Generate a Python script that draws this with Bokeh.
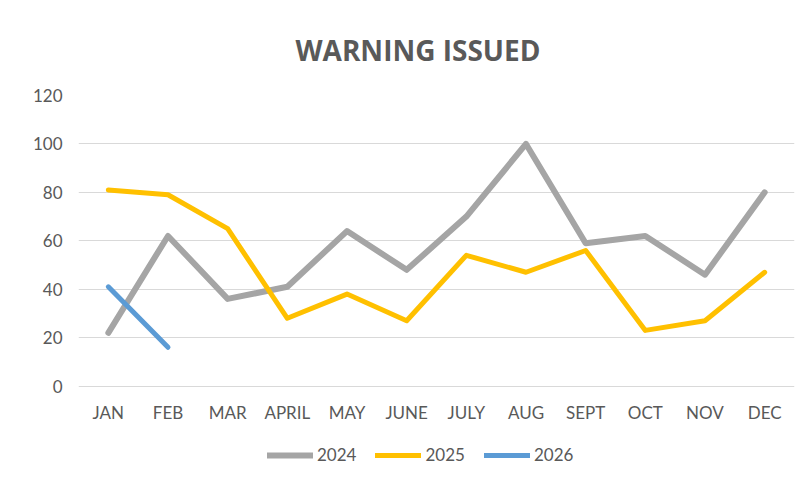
from bokeh.plotting import figure
from bokeh.models import Range1d, FactorRange, Legend, LegendItem, FixedTicker
from bokeh.embed import file_html
from bokeh.resources import INLINE

months = ["JAN", "FEB", "MAR", "APRIL", "MAY", "JUNE", "JULY", "AUG", "SEPT", "OCT", "NOV", "DEC"]
y2024 = [22, 62, 36, 41, 64, 48, 70, 100, 59, 62, 46, 80]
y2025 = [81, 79, 65, 28, 38, 27, 54, 47, 56, 23, 27, 47]
y2026 = [41, 16]
y_ticks = [0, 20, 40, 60, 80, 100, 120]
series_names = ["2024", "2025", "2026"]
colors = ["#A5A5A5", "#FFC000", "#5B9BD5"]

# the plotting area is extended below zero so that the legend can sit inside it
p = figure(frame_width=716, frame_height=386, x_range=FactorRange(*months), y_range=Range1d(-39.4, 120),
           output_backend="svg", toolbar_location=None,
           min_border_left=78, min_border_right=3, min_border_top=95, min_border_bottom=0)
p.outline_line_color = None
p.background_fill_color = "white"
p.border_fill_color = "white"

p.title.text = "WARNING ISSUED"
p.title.align = "left"
p.title.offset = 217
p.title.text_font = "Open Sans"
p.title.text_font_style = "bold"
p.title.text_font_size = "28px"
p.title.text_color = "#595959"
p.title.standoff = 54

r1 = p.line(months, y2024, line_color=colors[0], line_width=6, line_join="round", line_cap="round")
r2 = p.line(months, y2025, line_color=colors[1], line_width=5, line_join="round", line_cap="round")
r3 = p.line(months[:len(y2026)], y2026, line_color=colors[2], line_width=5, line_join="round", line_cap="round")

p.yaxis.ticker = FixedTicker(ticks=y_ticks)
p.xaxis.fixed_location = 0
for ax in [p.xaxis[0], p.yaxis[0]]:
    ax.axis_line_color = None
    ax.major_tick_line_color = None
    ax.minor_tick_line_color = None
    ax.major_tick_in = 0
    ax.major_tick_out = 0
    ax.minor_tick_out = 0
    ax.major_label_text_font = "Lato"
    ax.major_label_text_font_size = "17px"
    ax.major_label_text_color = "#595959"
p.xaxis.major_label_standoff = 16
p.yaxis.major_label_standoff = 16

p.xgrid.grid_line_color = None
p.ygrid.grid_line_color = "#D9D9D9"
p.ygrid.grid_line_width = 1

legend = Legend(items=[LegendItem(label=series_names[0], renderers=[r1]),
                       LegendItem(label=series_names[1], renderers=[r2]),
                       LegendItem(label=series_names[2], renderers=[r3])],
                orientation="horizontal", location=(189, 16),
                label_text_font="Lato", label_text_font_size="17px", label_text_color="#595959",
                glyph_width=46, glyph_height=20, label_standoff=4, spacing=19, border_line_color=None,
                background_fill_alpha=0, margin=0, padding=0)
p.add_layout(legend, "center")

open("out.html", "w").write(file_html(p, INLINE))
